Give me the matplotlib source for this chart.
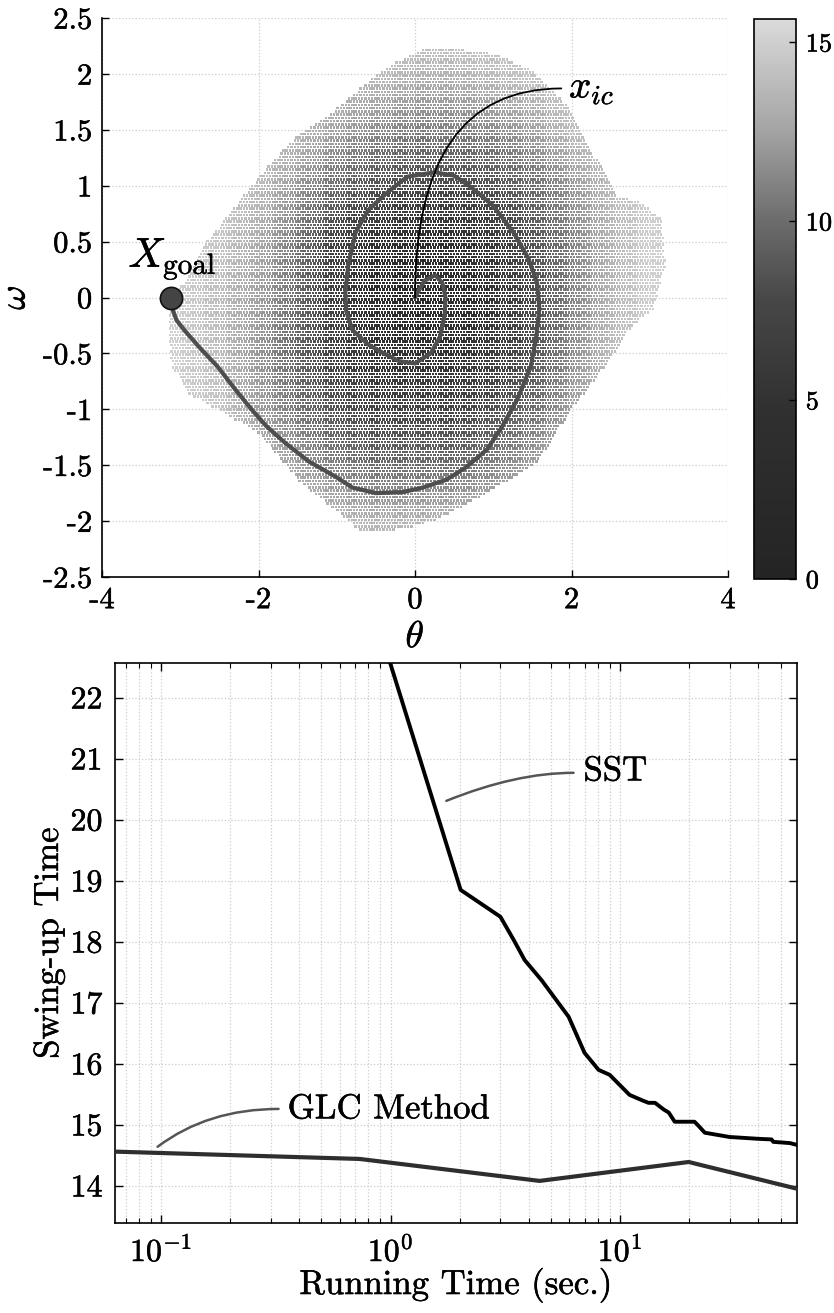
import numpy as np
import matplotlib
matplotlib.use('Agg')
import matplotlib.pyplot as plt
from matplotlib.colors import LinearSegmentedColormap, Normalize
from matplotlib.path import Path
import matplotlib.patheffects as pe

plt.rcParams['font.family'] = 'serif'
plt.rcParams['font.serif'] = ['cmr10']
plt.rcParams['mathtext.fontset'] = 'cm'
plt.rcParams['axes.unicode_minus'] = False
plt.rcParams['axes.formatter.use_mathtext'] = True

# ---------------- data: top panel ----------------
# coarse cost table (rows: omega from 2.5 down to -2.5)
cost_theta = [-3.5, -3.0, -2.5, -2.0, -1.5, -1.0, -0.5, 0.0, 0.5, 1.0, 1.5, 2.0, 2.5, 3.0, 3.5]
cost_omega = [2.5, 2.0, 1.5, 1.0, 0.5, 0.0, -0.5, -1.0, -1.5, -2.0, -2.5]
cost_table = [
    [15.0, 15.0, 15.0, 15.0, 15.0, 15.0, 15.0, 15.0, 15.0, 15.0, 15.0, 15.0, 15.0, 15.0, 15.0],
    [15.0, 15.0, 15.0, 15.0, 15.0, 14.5, 14.0, 13.5, 13.5, 14.0, 14.5, 15.0, 15.0, 15.0, 15.0],
    [15.0, 15.0, 15.0, 15.0, 14.0, 12.5, 11.5, 11.0, 11.0, 11.5, 12.5, 14.0, 15.0, 15.0, 15.0],
    [15.0, 15.0, 15.0, 14.0, 12.0, 10.0, 8.5, 8.0, 8.0, 8.5, 10.0, 12.0, 14.0, 15.0, 15.0],
    [15.0, 15.0, 14.5, 13.0, 10.5, 7.0, 5.0, 4.0, 4.5, 6.0, 8.5, 11.0, 13.5, 15.0, 15.0],
    [15.0, 15.0, 14.0, 12.5, 10.0, 6.5, 4.0, 2.0, 3.0, 5.5, 8.0, 11.0, 13.5, 15.0, 15.0],
    [15.0, 15.0, 14.0, 12.0, 9.5, 7.0, 5.0, 4.5, 5.0, 6.5, 8.5, 11.5, 14.0, 15.0, 15.0],
    [15.0, 15.0, 14.5, 12.5, 10.5, 8.5, 7.5, 7.5, 7.5, 8.5, 10.0, 12.5, 14.5, 15.0, 15.0],
    [15.0, 15.0, 15.0, 14.0, 12.5, 11.0, 10.0, 10.0, 10.0, 11.0, 12.5, 14.5, 15.0, 15.0, 15.0],
    [15.0, 15.0, 15.0, 15.0, 15.0, 14.0, 13.5, 13.5, 14.0, 14.5, 15.0, 15.0, 15.0, 15.0, 15.0],
    [15.0, 15.0, 15.0, 15.0, 15.0, 15.0, 15.0, 15.0, 15.0, 15.0, 15.0, 15.0, 15.0, 15.0, 15.0],
]
# outline of the sampled region (theta, omega)
cloud_theta = [-3.12, -2.9, -2.65, -2.3, -2.0, -1.57, -1.02, -0.37, 0.1, 0.6, 1.0, 1.48, 2.0, 2.35,
               2.6, 2.9, 3.15, 3.2, 3.05, 2.77, 2.43, 2.0, 1.56, 0.92, 0.27, -0.15, -0.67, -1.02,
               -1.45, -2.0, -2.52, -2.9, -3.1, -3.15]
cloud_omega = [0.0, 0.18, 0.51, 0.81, 1.08, 1.41, 1.68, 2.06, 2.22, 2.22, 2.18, 2.04, 1.68, 1.2,
               0.9, 0.85, 0.7, 0.3, -0.1, -0.26, -0.62, -1.0, -1.48, -1.75, -1.99, -2.07, -2.1,
               -1.9, -1.66, -1.21, -1.0, -0.86, -0.62, -0.32]
# swing-up trajectory
traj_theta = [0.0, 0.12, 0.26, 0.35, 0.39, 0.38, 0.32, 0.2, 0.0, -0.2, -0.4, -0.6, -0.8, -0.88,
              -0.89, -0.85, -0.76, -0.6, -0.37, -0.1, 0.25, 0.5, 0.71, 1.0, 1.26, 1.45, 1.56,
              1.59, 1.55, 1.48, 1.3, 1.1, 0.92, 0.65, 0.4, 0.1, -0.15, -0.5, -0.8, -1.02, -1.35,
              -1.66, -1.9, -2.09, -2.3, -2.52, -2.75, -2.95, -3.05, -3.1, -3.14]
traj_omega = [0.0, 0.15, 0.2, 0.13, 0.0, -0.15, -0.35, -0.5, -0.59, -0.57, -0.5, -0.42, -0.29,
              -0.12, 0.05, 0.3, 0.58, 0.78, 0.93, 1.08, 1.12, 1.09, 0.99, 0.82, 0.58, 0.35, 0.13,
              -0.1, -0.35, -0.62, -0.92, -1.17, -1.36, -1.52, -1.63, -1.7, -1.74, -1.75, -1.7,
              -1.6, -1.47, -1.3, -1.15, -1.0, -0.82, -0.62, -0.45, -0.29, -0.2, -0.1, 0.0]
goal_point = (-3.12, 0.0)
ic_point = (0.0, 0.0)
ic_label_pos = (1.87, 1.87)
goal_label_pos = (-3.66, 0.35)

# ---------------- data: bottom panel ----------------
sst_time = [1.0, 2.02, 3.01, 3.44, 3.84, 4.55, 5.97, 7.0, 8.06, 9.0, 11.0, 12.5, 13.3, 14.2,
            15.5, 16.3, 17.3, 21.1, 22.0, 23.4, 30.0, 40.0, 45.7, 46.5, 55.0, 59.0]
sst_cost = [22.55, 18.85, 18.41, 18.03, 17.70, 17.37, 16.77, 16.18, 15.90, 15.82, 15.49, 15.40,
            15.36, 15.36, 15.25, 15.20, 15.05, 15.05, 14.98, 14.87, 14.80, 14.77, 14.76, 14.72,
            14.70, 14.67]
glc_time = [0.063, 0.733, 4.46, 19.9, 59.3]
glc_cost = [14.56, 14.44, 14.08, 14.39, 13.95]

# ---------------- figure ----------------
fig = plt.figure(figsize=(8.34, 13.13), dpi=100)
W, H = 834.0, 1313.0
def rect(l, t, r, b):
    return [l / W, (H - b) / H, (r - l) / W, (b - t) / H]

ax1 = fig.add_axes(rect(102, 18, 728, 577))
cax = fig.add_axes(rect(754, 19, 796, 579))
ax2 = fig.add_axes(rect(115, 663, 797, 1223))

thick = [pe.withStroke(linewidth=0.35, foreground='black')]

cmap = LinearSegmentedColormap.from_list(
    'mgray', [(0.0, '#242424'), (0.3, '#303030'), (0.5, '#474747'), (0.64, '#6c6c6c'),
              (0.8, '#a3a3a3'), (1.0, '#dadada')])
norm = Normalize(vmin=0, vmax=15.65)

# sample lattice within the outline, colored from the cost table
tx = np.array(cost_theta)
ty = np.array(cost_omega)[::-1]
Z = np.array(cost_table)[::-1]
gx, gy = np.meshgrid(np.arange(-3.3, 3.4, 0.042), np.arange(-2.25, 2.3, 0.029))
gx = gx + (np.arange(gx.shape[0])[:, None] % 2) * 0.021
px, py = gx.ravel(), gy.ravel()
inside = Path(np.column_stack([cloud_theta, cloud_omega])).contains_points(np.column_stack([px, py]))
px, py = px[inside], py[inside]
ix = np.clip(np.searchsorted(tx, px) - 1, 0, len(tx) - 2)
iy = np.clip(np.searchsorted(ty, py) - 1, 0, len(ty) - 2)
fx = (px - tx[ix]) / (tx[ix + 1] - tx[ix])
fy = (py - ty[iy]) / (ty[iy + 1] - ty[iy])
pc = (Z[iy, ix] * (1 - fx) * (1 - fy) + Z[iy, ix + 1] * fx * (1 - fy)
      + Z[iy + 1, ix] * (1 - fx) * fy + Z[iy + 1, ix + 1] * fx * fy)

sc = ax1.scatter(px, py, c=pc, cmap=cmap, norm=norm, s=3.2, marker='s', linewidths=0, zorder=2)
ax1.plot(traj_theta, traj_omega, color='#4e4e4e', lw=3.0, zorder=3, solid_capstyle='round')
ax1.plot([goal_point[0]], [goal_point[1]], 'o', ms=16, mfc='#444444', mec='#111111', mew=1.2, zorder=4)
ax1.annotate('', xy=ic_point, xytext=ic_label_pos,
             arrowprops=dict(arrowstyle='-', color='black', lw=1.3,
                             connectionstyle='angle3,angleA=0,angleB=90', shrinkA=0, shrinkB=0),
             zorder=5)
ax1.text(ic_label_pos[0] + 0.1, ic_label_pos[1], r'$x_{ic}$', fontsize=28, va='center', ha='left')
ax1.text(goal_label_pos[0], goal_label_pos[1], r'$X_{\rm goal}$', fontsize=30, va='center', ha='left')

ax1.set_xlim(-4, 4)
ax1.set_ylim(-2.5, 2.5)
ax1.set_xticks([-4, -2, 0, 2, 4])
ax1.set_xticklabels(['-4', '-2', '0', '2', '4'])
yt = [-2.5, -2, -1.5, -1, -0.5, 0, 0.5, 1, 1.5, 2, 2.5]
ax1.set_yticks(yt)
ax1.set_yticklabels(['-2.5', '-2', '-1.5', '-1', '-0.5', '0', '0.5', '1', '1.5', '2', '2.5'])
ax1.grid(True, color='#cccccc', ls=':', lw=0.9, zorder=0)
ax1.set_axisbelow(True)
for s in ['top', 'right']:
    ax1.spines[s].set_visible(False)
for s in ['left', 'bottom']:
    ax1.spines[s].set_linewidth(1.2)
ax1.tick_params(direction='in', length=5, width=1, labelsize=22, pad=7)
ax1.set_xlabel(r'$\theta$', fontsize=27, labelpad=5)
ax1.set_ylabel(r'$\omega$', fontsize=27, labelpad=8, rotation=90)

cb = fig.colorbar(sc, cax=cax, ticks=[0, 5, 10, 15])
cb.ax.tick_params(direction='in', length=5, width=1, labelsize=19, pad=7)
cb.outline.set_linewidth(1.2)

# bottom panel
ax2.plot(glc_time, glc_cost, color='#2e2e2e', lw=3.0, zorder=3)
ax2.plot(sst_time, sst_cost, color='black', lw=2.8, zorder=4)
ax2.set_xscale('log')
ax2.set_xlim(0.063, 59.0)
ax2.set_ylim(13.39, 22.57)
ax2.set_yticks([14, 15, 16, 17, 18, 19, 20, 21, 22])
ax2.set_yticklabels(['14', '15', '16', '17', '18', '19', '20', '21', '22'])
ax2.set_xticks([0.1, 1, 10])
ax2.set_xticklabels([r'$10^{-1}$', r'$10^{0}$', r'$10^{1}$'])
ax2.grid(True, which='major', color='#cccccc', ls=':', lw=0.9)
ax2.grid(True, which='minor', axis='x', color='#cccccc', ls=':', lw=0.9)
ax2.tick_params(which='both', direction='in', top=True, right=True, labelsize=23)
ax2.tick_params(which='major', length=6, width=1, pad=9)
ax2.tick_params(which='minor', length=3.5, width=0.8)
ax2.tick_params(axis='y', which='minor', left=False, right=False)
for s in ax2.spines.values():
    s.set_linewidth(1.2)
ax2.set_xlabel('Running Time (sec.)', fontsize=25, labelpad=0)
ax2.set_ylabel('Swing-up Time', fontsize=25, labelpad=4)

ax2.annotate('', xy=(1.75, 20.31), xytext=(6.27, 20.77),
             arrowprops=dict(arrowstyle='-', color='#555555', lw=1.8,
                             connectionstyle='angle3,angleA=0,angleB=22', shrinkA=0, shrinkB=0))
ax2.text(6.93, 20.79, 'SST', fontsize=25, va='center', ha='left')
ax2.annotate('', xy=(0.0966, 14.64), xytext=(0.325, 15.26),
             arrowprops=dict(arrowstyle='-', color='#555555', lw=1.8,
                             connectionstyle='angle3,angleA=0,angleB=37', shrinkA=0, shrinkB=0))
ax2.text(0.356, 15.25, 'GLC Method', fontsize=25, va='center', ha='left')

for t in (ax1.get_xticklabels() + ax1.get_yticklabels() + ax2.get_xticklabels()
          + ax2.get_yticklabels() + cb.ax.get_yticklabels() + list(ax1.texts) + list(ax2.texts)
          + [ax1.xaxis.label, ax1.yaxis.label, ax2.xaxis.label, ax2.yaxis.label]):
    t.set_path_effects(thick)

fig.savefig('out.png', dpi=100)
